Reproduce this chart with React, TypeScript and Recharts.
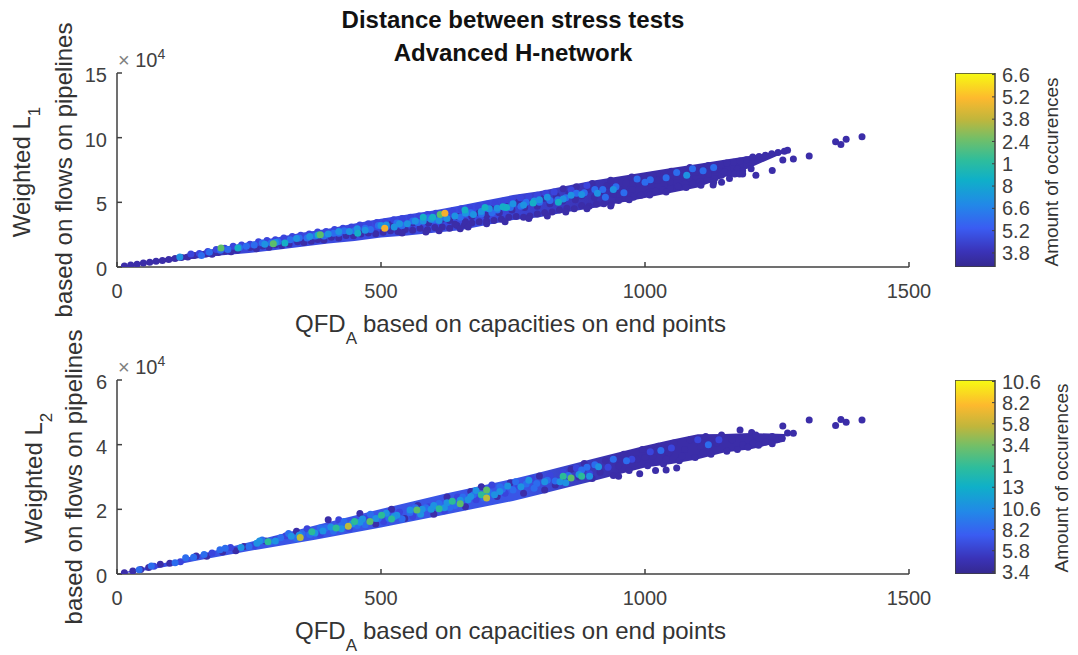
import React from "react";
import { ComposedChart, Area, Scatter, XAxis, YAxis, Bar } from "recharts";

type P = [number, number];
const FONT = "'Liberation Sans', Arial, sans-serif";
const AXIS = "#404040";
const TEXT = "#333333";

const COLORS = {
  dark: "#3B2DA8",
  indigo: "#3A44DC",
  blue: "#2C6CEE",
  azure: "#1E92E2",
  cyan: "#15AFC6",
  teal: "#2BBB98",
  green: "#5CBE6A",
  olive: "#BDBB3A",
  orange: "#F5B02E",
};

const titleLines = ["Distance between stress tests", "Advanced H-network"];
const xLabelText = "based on capacities on end points";
const yLabelLine2 = "based on flows on pipelines";
const colorbarTitle = "Amount of occurences";

const xTicks = [0, 500, 1000, 1500];
const y1Ticks = [0, 5, 10, 15];
const y2Ticks = [0, 2, 4, 6];
const cb1Labels = ["3.8", "5.2", "6.6", "8", "1", "2.4", "3.8", "5.2", "6.6"];
const cb2Labels = ["3.4", "5.8", "8.2", "10.6", "13", "1", "3.4", "5.8", "8.2", "10.6"];

const band1X = [12, 50, 100, 150, 200, 250, 300, 350, 400, 450, 500, 550, 600, 650, 700, 750, 800, 850, 900, 950, 1000, 1050, 1100, 1150, 1200, 1265];
const band1Low = [0.05, 0.2, 0.42, 0.66, 0.9, 1.08, 1.32, 1.56, 1.82, 2.02, 2.28, 2.44, 2.64, 2.84, 3.24, 3.64, 3.84, 4.24, 4.54, 4.94, 5.34, 5.74, 6.14, 6.94, 7.7, 8.85];
const band1High = [0.1, 0.38, 0.76, 1.14, 1.52, 1.92, 2.26, 2.64, 2.96, 3.36, 3.73, 4.06, 4.36, 4.76, 5.16, 5.56, 5.86, 6.26, 6.66, 7.0, 7.33, 7.66, 7.96, 8.3, 8.6, 9.0];

const band2X = [12, 50, 100, 150, 250, 375, 500, 625, 750, 800, 900, 1000, 1050, 1100, 1150, 1200, 1265];
const band2Low = [0.02, 0.1, 0.25, 0.41, 0.71, 1.06, 1.44, 1.85, 2.26, 2.46, 2.87, 3.29, 3.4, 3.55, 3.76, 3.86, 4.1];
const band2High = [0.05, 0.19, 0.38, 0.58, 0.98, 1.5, 2.01, 2.5, 2.94, 3.14, 3.56, 3.97, 4.15, 4.32, 4.33, 4.36, 4.33];

const p1Dark: P[] = [
  [14,.08],[26,.16],[38,.22],[50,.3],[62,.36],[74,.44],[86,.5],[98,.58],[110,.66],[122,.74],[134,.78],[146,.88],[168,1.0],[180,.98],[192,1.12],[204,1.22],[216,1.18],[228,1.3],[252,1.5],[264,1.42],[276,1.62],[288,1.52],[300,1.72],[312,1.66],[326,1.78],[342,1.95],[354,1.9],[368,2.0],[380,2.12],[392,2.08],[406,2.3],[420,2.25],[434,2.44],[448,2.42],[462,2.55],[476,2.62],[490,2.58],[504,2.68],[518,2.8],[532,2.75],[546,2.9],[560,2.85],[574,3.0],[588,2.88],[602,3.05],[616,3.1],[630,3.0],[644,3.2],[658,3.25],[672,3.4],[686,3.5],[700,3.55],[714,3.6],[728,3.7],[742,3.85],[756,3.9],[770,3.85],[782,3.95],[796,4.1],[810,4.2],[824,4.25],[838,4.4],[852,4.55],[866,4.5],[880,4.75],[894,4.7],[908,4.85],[922,4.9],[936,4.85],[950,5.15],[964,5.3],[978,5.4],[992,5.55],[1006,5.7],[1020,5.85],[1034,5.95],[1048,6.1],[1062,6.25],[1076,6.45],[1090,6.5],[1104,6.6],[1118,6.75],[1132,6.85],
  [520,3.3],[560,3.4],[590,3.4],[615,3.7],[630,3.6],[640,3.3],[645,3.9],[660,3.5],[672,3.9],[686,4.2],[700,4.0],[712,4.5],[724,4.2],[736,4.7],[748,4.4],[760,5.0],[772,4.6],[784,5.1],[796,4.7],[808,5.3],[820,4.9],[832,5.5],[844,5.1],[856,5.7],[868,5.2],[880,5.5],[892,6.0],[904,5.4],[916,5.8],[928,6.3],[940,5.6],[952,6.0],[964,6.5],[976,6.0],[988,6.5],[1000,7.0],[1012,6.3],[1024,6.7],[1036,7.2],[1048,6.6],[1060,7.0],[1072,7.4],[1084,6.9],[1096,7.3],[1108,7.7],[1120,7.2],[1132,7.5],[1144,7.9],[1156,7.6],[1168,8.1],[1180,7.8],[1192,8.3],[1204,8.5],[1216,8.55],[1228,8.65],[1240,8.75],[1252,8.85],[1264,8.95],[1270,9.02],[1175,7.6],[1185,7.45],[1160,7.2],[1145,7.1],[1150,7.35],
  [845,6.05],[870,6.2],[900,6.45],[935,6.7],[975,6.95],[1015,7.1],[1050,7.4],[1085,7.7],[1120,7.85],[1155,8.05],[1180,8.2],
  [780,3.75],[935,4.72],[1009,5.57],[1078,6.15],[1106,6.32],[1130,6.55],
  [540,2.62],[585,2.7],[610,2.8],[650,2.95],[665,3.1],[700,3.35],[735,3.5],[815,3.95],[850,4.25],[890,4.5],[970,5.2],[1040,5.8],[1129,6.34],[1145,6.55],[1160,6.85],[1170,7.2],[1179,7.2],[1185,7.2],
  [1411,10.07],[1381,9.87],[1361,9.69],[1371,9.48],[1311,8.58],[1281,8.35],[1261,8.27],[1241,7.47],[1210,7.09],[1201,7.6],
];
const p1Indigo: P[] = [
  [140,1.0],[156,1.05],[172,1.2],[188,1.35],[204,1.45],[220,1.6],[236,1.7],[252,1.75],[268,1.95],[284,2.05],[300,2.1],[316,2.25],[332,2.35],[348,2.45],[364,2.55],[380,2.7],[396,2.75],[412,2.9],[428,3.0],[444,3.1],[460,3.25],[476,3.35],[492,3.45],[508,3.5],[524,3.65],[540,3.75],[556,3.85],[572,3.95],[588,4.05],[604,4.15],[636,4.35],[652,4.5],[668,4.6],[684,4.7],[700,4.85],[716,4.95],[732,5.1],[748,5.2],[764,5.35],[780,5.45],[796,5.55],[812,5.7],[828,5.8],[860,5.95],[890,6.3],
];
const p1Blue: P[] = [
  [160,.88],[196,1.3],[232,1.5],[260,1.7],[292,1.85],[328,2.1],[360,2.25],[392,2.4],[420,2.6],[450,2.8],[480,2.9],[510,3.1],[540,3.2],[570,3.45],[600,3.65],[650,3.85],[690,4.1],[720,4.4],[765,4.7],[800,5.0],[835,5.2],[870,5.7],[905,6.0],[945,6.2],[985,6.8],[1040,6.9],[1090,7.6],[1130,7.7],[925,5.4],[960,5.75],[1010,6.75],
  [175,1.15],[210,1.35],[245,1.6],[275,1.85],[305,1.95],[345,2.25],[375,2.4],[410,2.6],[430,2.8],[470,3.0],[495,3.2],[530,3.4],[560,3.55],[590,3.8],[620,3.85],[670,4.2],[710,4.2],[745,4.6],[775,5.0],[820,5.15],[850,5.35],[885,5.75],[920,6.0],[1000,6.55],[1060,7.3],[1110,7.45],
];
const p1Azure: P[] = [
  [119,.78],[280,1.75],[340,2.2],[400,2.55],[440,2.75],[455,2.95],[510,3.25],[525,3.1],[550,3.35],[580,3.55],[610,3.6],[640,3.95],[690,4.3],[705,4.5],[735,4.6],[750,4.9],[790,5.1],[815,5.4],[860,5.55],[910,5.7],[940,6.0],[1079,7.1],
  [300,1.9],[365,2.35],[420,2.75],[470,2.85],[500,3.2],[535,3.35],[565,3.55],[595,3.7],[625,3.75],[660,4.15],[675,4.05],[720,4.55],[770,4.8],[800,5.2],[845,5.25],[880,5.6],
];
const p1Teal: P[] = [
  [229,1.47],[318,1.85],[381,2.47],[456,2.6],[580,3.85],[598,3.85],[659,4.4],[697,4.6],[731,4.65],[738,4.6],[788,4.95],[836,5.0],
];
const p1Green: P[] = [[197,1.47],[296,1.8],[385,2.5],[612,4.05]];
const p1Orange: P[] = [[507,3.0],[621,4.15]];

const p2Dark: P[] = [
  [14,.04],[30,.09],[45,.14],[60,.2],[82,.3],[100,.33],[150,.56],[170,.55],[200,.68],[225,.72],[240,.85],[281,1.02],[340,1.32],[400,1.68],[460,1.87],[490,1.55],[520,2.0],[545,1.72],[570,2.12],[600,1.85],[625,2.38],[660,2.08],[670,2.55],[690,2.7],[720,2.4],[745,2.82],[770,2.5],[800,3.03],[810,2.6],[830,2.75],[850,2.9],[860,3.24],[875,3.0],[885,3.42],[900,2.95],[915,3.15],[925,3.5],[940,3.05],[950,3.35],[960,3.7],[970,3.2],[985,3.55],[995,3.85],[1005,3.35],[1015,3.65],[1025,3.95],[1035,3.4],[1045,3.75],[1055,4.05],[1065,3.5],[1075,3.85],[1085,4.15],[1095,3.6],[1105,3.95],[1115,4.25],[1125,3.7],[1135,4.05],[1145,4.3],[1155,3.8],[1165,4.15],[1175,3.85],[1185,4.0],[1195,3.92],[1205,4.05],[1215,3.98],[1228,4.08],[1241,4.03],[1250,4.15],[1260,4.2],[1110,3.75],[1060,3.28],[1040,3.22],[1020,3.2],[990,3.1],[950,3.02],
  [1000,3.6],[1020,3.8],[1040,3.55],[1070,3.65],
  [1411,4.76],[1381,4.69],[1371,4.78],[1361,4.59],[1311,4.76],[1261,4.58],[1281,4.35],[1270,4.36],[1180,4.45],[1202,4.38],[1210,4.3],[1241,4.25],
];
const p2Indigo: P[] = [
  [70,.24],[120,.38],[180,.65],[215,.82],[260,.88],[300,1.07],[320,1.18],[360,1.4],[385,1.22],[420,1.68],[440,1.4],[470,1.72],[505,1.62],[535,1.92],[560,1.78],[590,2.08],[620,1.96],[645,2.38],[680,2.3],[710,2.75],[735,2.5],[760,2.72],[785,2.95],[820,3.05],[845,3.15],[870,3.28],[895,3.1],[930,3.3],[975,3.55],[1010,3.78],[1050,3.9],[1100,4.15],[1140,4.15],
];
const p2Blue: P[] = [
  [42,.13],[130,.5],[195,.75],[275,1.05],[310,1.12],[350,1.25],[395,1.42],[430,1.62],[455,1.5],[480,1.85],[515,1.72],[555,1.9],[585,2.05],[610,2.18],[640,2.12],[675,2.45],[705,2.52],[730,2.62],[750,2.6],[775,2.78],[795,2.8],[815,2.9],[880,3.22],[905,3.38],[940,3.55],[965,3.5],[1030,3.82],[1120,4.0],
  [65,.25],[110,.35],[145,.52],[165,.6],[205,.8],[250,.85],[290,1.0],[325,1.25],[340,1.1],[365,1.22],[385,1.42],[410,1.32],[425,1.5],[470,1.52],[495,1.72],[540,1.7],[565,2.05],[600,2.1],[630,2.05],[655,2.38],[695,2.35],[725,2.7],[755,2.85],[790,2.65],[830,2.88],[855,3.05],[890,3.3],
];
const p2Azure: P[] = [
  [235,.82],[265,.95],[300,1.02],[330,1.17],[375,1.27],[405,1.45],[445,1.55],[465,1.7],[510,1.88],[530,1.82],[578,2.0],[595,2.0],[625,2.2],[665,2.3],[680,2.58],[715,2.45],[740,2.72],[780,2.9],[839,2.85],[875,3.08],[895,3.02],[912,3.32],
  [270,1.02],[345,1.2],[390,1.33],[425,1.4],[460,1.6],[490,1.72],[525,1.78],[555,1.98],[575,1.85],[600,2.12],[620,2.05],[650,2.28],[670,2.4],[700,2.45],[725,2.55],[765,2.7],[810,2.85],[850,2.82],
];
const p2Teal: P[] = [[286,1.0],[369,1.31],[415,1.42],[450,1.62],[501,1.82],[520,1.7],[610,2.02],[635,2.25],[690,2.45],[845,3.02],[880,3.02]];
const p2Green: P[] = [[479,1.62],[568,1.98],[650,2.17],[700,2.6],[860,2.97]];
const p2Olive: P[] = [[347,1.13],[438,1.48],[700,2.35]];

const toPts = (a: P[]) => a.map(([x, y]) => ({ x, y }));
const toBand = (xs: number[], lo: number[], hi: number[]) => xs.map((x, i) => ({ x, band: [lo[i], hi[i]] }));

const dot = (fill: string, r: number) => (p: any) => <circle cx={p.cx} cy={p.cy} r={r} fill={fill} />;

const tickStyle = { fontSize: 20, fill: AXIS, fontFamily: FONT };

function Panel({ top, domainMax, yTicks, band, layers, gradId, stops }: any) {
  const plotTop = top;
  const H = 194;
  return (
    <div style={{ position: "absolute", left: 0, top: 0 }}>
      <ComposedChart
        width={1078}
        height={plotTop + H + 40}
        data={band}
        margin={{ top: plotTop, left: 67, right: 169, bottom: 0 }}
      >
        <defs>
          <linearGradient id={gradId} x1="0" y1="0" x2="1" y2="0">
            {stops.map(([o, c]: [number, string]) => <stop key={o} offset={o} stopColor={c} />)}
          </linearGradient>
        </defs>
        <XAxis
          type="number"
          dataKey="x"
          domain={[0, 1500]}
          ticks={xTicks}
          tickSize={-5}
          tickMargin={22}
          height={40}
          stroke={AXIS}
          strokeWidth={1.5}
          tick={tickStyle}
          interval={0}
          allowDataOverflow
        />
        <YAxis
          type="number"
          domain={[0, domainMax]}
          ticks={yTicks}
          tickSize={-5}
          tickMargin={15}
          width={50}
          stroke={AXIS}
          strokeWidth={1.5}
          tick={{ ...tickStyle, dy: 2 }}
          interval={0}
          allowDataOverflow
        />
        <Area dataKey="band" type="linear" stroke="none" fill={`url(#${gradId})`} fillOpacity={1} dot={false} activeDot={false} isAnimationActive={false} />
        {layers.map(([pts, color]: [P[], string], i: number) => (
          <Scatter key={i} data={toPts(pts)} dataKey="y" shape={dot(color, 3.5)} isAnimationActive={false} />
        ))}
      </ComposedChart>
    </div>
  );
}

function Colorbar({ top, labels, lo, hi, gradId }: any) {
  const ticks = labels.map((_: string, i: number) => i);
  return (
    <div style={{ position: "absolute", left: 955, top: top - 12 }}>
      <ComposedChart width={100} height={218} data={[{ c: "c", v: [lo, hi] }]} margin={{ top: 12, left: 0, right: 0, bottom: 12 }} barCategoryGap={0}>
        <defs>
          <linearGradient id={gradId} x1="0" y1="1" x2="0" y2="0">
            <stop offset={0} stopColor="#35288F" />
            <stop offset={0.08} stopColor="#3A33B8" />
            <stop offset={0.2} stopColor="#3A5CF2" />
            <stop offset={0.32} stopColor="#2288E8" />
            <stop offset={0.45} stopColor="#0FB0C8" />
            <stop offset={0.55} stopColor="#2EBD9C" />
            <stop offset={0.66} stopColor="#72BF68" />
            <stop offset={0.76} stopColor="#C0B63C" />
            <stop offset={0.87} stopColor="#FDB92E" />
            <stop offset={1} stopColor="#F6FB12" />
          </linearGradient>
        </defs>
        <XAxis dataKey="c" hide />
        <YAxis
          orientation="right"
          type="number"
          domain={[lo, hi]}
          ticks={ticks}
          tickFormatter={(v: number) => labels[v]}
          width={60}
          tickSize={-3}
          tickMargin={10}
          interval={0}
          axisLine={false}
          stroke={AXIS}
          tick={tickStyle}
          allowDataOverflow
        />
        <Bar dataKey="v" fill={`url(#${gradId})`} stroke={AXIS} strokeWidth={1.5} isAnimationActive={false} />
      </ComposedChart>
    </div>
  );
}

const XLabel = ({ y }: { y: number }) => (
  <text x={295} y={y} fontSize={24} fill={TEXT} fontFamily={FONT}>
    QFD<tspan dy={12} fontSize={17}>A</tspan><tspan dx={6} dy={-12}>{xLabelText}</tspan>
  </text>
);

const YLabel = ({ x, y, sub }: { x: number; y: number; sub: string }) => (
  <text transform={`translate(${x},${y}) rotate(-90)`} textAnchor="middle" fontSize={24} fill={TEXT} fontFamily={FONT}>
    Weighted L<tspan dy={10} fontSize={17}>{sub}</tspan>
  </text>
);

const YLabel2 = ({ x, y }: { x: number; y: number }) => (
  <text transform={`translate(${x},${y}) rotate(-90)`} textAnchor="middle" fontSize={24} fill={TEXT} fontFamily={FONT}>
    {yLabelLine2}
  </text>
);

const Exponent = ({ y }: { y: number }) => (
  <text x={118} y={y} fontSize={20} fill={AXIS} fontFamily={FONT}>
    <tspan fill="#808080">×</tspan> 10<tspan dy={-8} fontSize={14}>4</tspan>
  </text>
);

const CbTitle = ({ x, y }: { x: number; y: number }) => (
  <text transform={`translate(${x},${y}) rotate(-90)`} textAnchor="middle" fontSize={19} fill={TEXT} fontFamily={FONT}>
    {colorbarTitle}
  </text>
);

export default function App() {
  return (
    <div style={{ position: "absolute", left: 0, top: 0, width: 1078, height: 655, background: "#fff", overflow: "hidden" }}>
      <Panel
        top={73}
        domainMax={15}
        yTicks={y1Ticks}
        band={toBand(band1X, band1Low, band1High)}
        gradId="bandA"
        stops={[[0, COLORS.dark], [0.1, COLORS.dark], [0.2, "#3A4AE0"], [0.55, "#3A4AE0"], [0.75, COLORS.dark], [1, COLORS.dark]]}
        layers={[
          [p1Dark, COLORS.dark], [p1Indigo, COLORS.indigo], [p1Blue, COLORS.blue], [p1Azure, COLORS.azure],
          [p1Teal, COLORS.cyan], [p1Green, COLORS.green], [p1Orange, COLORS.orange],
        ]}
      />
      <Panel
        top={380}
        domainMax={6}
        yTicks={y2Ticks}
        band={toBand(band2X, band2Low, band2High)}
        gradId="bandB"
        stops={[[0, COLORS.indigo], [0.15, "#3A55E6"], [0.6, "#3A55E6"], [0.75, COLORS.dark], [1, COLORS.dark]]}
        layers={[
          [p2Dark, COLORS.dark], [p2Indigo, COLORS.indigo], [p2Blue, COLORS.blue], [p2Azure, COLORS.azure],
          [p2Teal, COLORS.teal], [p2Green, COLORS.green], [p2Olive, COLORS.olive],
        ]}
      />
      <Colorbar top={73} labels={cb1Labels} lo={-0.63} hi={8.07} gradId="cbA" />
      <Colorbar top={380} labels={cb2Labels} lo={-0.1} hi={9.07} gradId="cbB" />
      <svg width={1078} height={655} style={{ position: "absolute", left: 0, top: 0, pointerEvents: "none" }}>
        <text x={513} y={28} textAnchor="middle" fontSize={24} fontWeight="bold" fill="#111" fontFamily={FONT}>{titleLines[0]}</text>
        <text x={513} y={60.5} textAnchor="middle" fontSize={24} fontWeight="bold" fill="#111" fontFamily={FONT}>{titleLines[1]}</text>
        <XLabel y={331.5} />
        <XLabel y={639} />
        <YLabel x={30} y={172} sub="1" />
        <YLabel2 x={71.5} y={170} />
        <YLabel x={41.5} y={478} sub="2" />
        <YLabel2 x={81.5} y={477} />
        <Exponent y={66.5} />
        <Exponent y={373.5} />
        <CbTitle x={1058} y={172} />
        <CbTitle x={1068} y={478} />
      </svg>
    </div>
  );
}
